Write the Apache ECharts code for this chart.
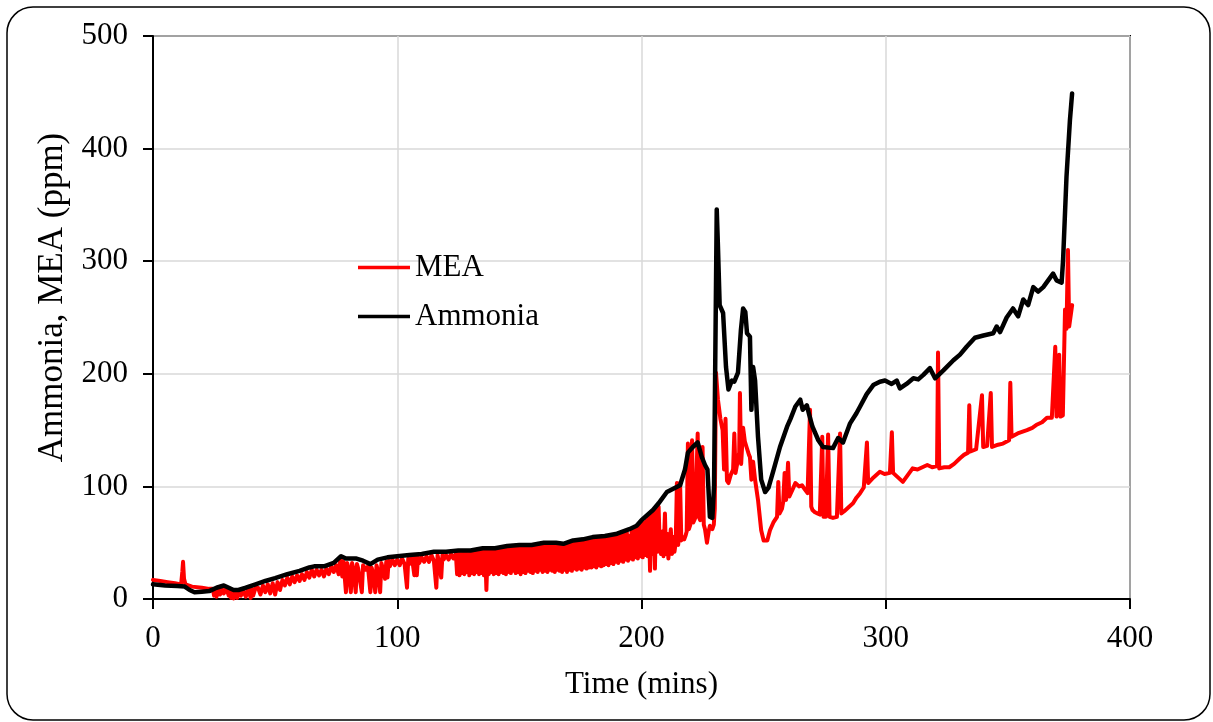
<!DOCTYPE html>
<html>
<head>
<meta charset="utf-8">
<script src="https://cdn.jsdelivr.net/npm/echarts@6/dist/echarts.min.js"></script>
<style>
html,body{margin:0;padding:0;background:#fff;}
#chart{width:1213px;height:722px;}
</style>
</head>
<body>
<div id="chart"></div>
<script>
const xTicks = [0, 100, 200, 300, 400];
const yTicks = [0, 100, 200, 300, 400, 500];
const seriesNames = ['MEA', 'Ammonia'];
const xTitle = 'Time (mins)';
const yTitle = 'Ammonia, MEA (ppm)';

// MEA (red) [time, ppm]
const meaData = [
[0,17],[3,16],[6,15],[9,14],[11.5,13],[12,24],[12.3,33],[12.7,18],[13.3,13],[16,11],[20,10],[23,9],[24.5,9],
[25,3],[25.5,8],[26,2],[27,9],[27.5,4],[28,10],[29,5],[30,10],[31,3],[31.5,8],[32,1],[32.5,7],[33,0.5],[34,6],[34.5,1],[35,7],[36,3],[37,7],[38,2],[39,9],[40,1],[40.5,9],[41,3],[42,10],
[43,10],[44,4],[45,12],[46,6],[47,13],[48,5],[49,14],[50,4],[51,15],[52,8],[53,17],[54,12],[55,19],[56,13],[57,20],[58,15],[59,21],[60,16],[61,22],[62,17],[63,24],[64,19],[65,26],[66,20],[67,26],[68,21],[69,26],[70,20],[71,27],[72,22],[73,29],[74,24],[75,30],[76,22],[76.8,37],[77.5,20],[78,33],
[79,6],[79.5,32],[80,28],[81,6],[81.5,32],[82,27],[83,6],[83.5,31],[84,27],[85.5,6],[86,30],[87,26],[88,29],[89,6],[89.5,28],[90,24],[91,6],[91.5,30],[92,26],[93,6],[93.5,32],[94,28],[95,18],[95.5,33],[96,19],[96.5,34],[97,29],[98,35],[99,30],[100,35],[101,30],[102,36],[103,31],[104,10],[104.5,36],[105,31],[106,37],[107,21],[107.5,37],[108,21],[108.5,37],[109,32],[110,37],[111,33],[112,38],[113,33],[114,39],[115,34],[116,10],[116.5,39],[117,34],[118,19],[118.5,39],[119,35],[120,39],[121,35],[122,40],[123,36],
[124,40],[124.5,22],[125,41],[125.5,21],[126,40],[126.5,23],[127,41],[127.5,22],[128,41],[128.5,24],[129,40],[129.5,21],[130,41],[130.5,23],[131,42],[131.5,22],[132,41],[132.5,24],[133,42],[133.5,22],[134,43],[134.5,23],[135,42],[135.5,21],[136,43],[136.5,8],[137,43],[137.5,22],[138,42],[138.5,24],[139,43],[139.5,22],[140,43],[140.5,23],[141,44],[141.5,22],[142,44],[142.5,24],[143,45],[143.5,23],[144,44],[144.5,22],[145,45],[145.5,24],[146,45],[146.5,23],[147,46],[147.5,25],[148,45],[148.5,23],[149,46],[149.5,24],[150,46],[150.5,22],[151,46],[151.5,24],[152,45],[152.5,23],[153,46],[153.5,25],[154,46],[154.5,24],[155,46],[155.5,23],[156,47],[156.5,25],[157,47],[157.5,24],[158,48],[158.5,26],[159,48],[159.5,24],[160,48],[160.5,25],[161,48],[161.5,24],[162,49],[162.5,26],[163,48],[163.5,25],[164,48],[164.5,24],[165,48],[165.5,26],[166,47],[166.5,25],[167,47],[167.5,24],[168,47],[168.5,26],[169,48],[169.5,24],[170,49],[170.5,26],[171,50],[171.5,25],[172,50],[172.5,27],[173,50],[173.5,26],[174,51],[174.5,27],[175,51],[175.5,26],[176,51],[176.5,28],[177,52],[177.5,27],[178,52],[178.5,28],[179,53],[179.5,28],[180,53],[180.5,29],[181,53],[181.5,28],[182,54],[182.5,30],[183,54],[183.5,29],[184,54],[184.5,30],[185,54],[185.5,31],[186,55],[186.5,30],[187,55],[187.5,32],[188,56],[188.5,31],[189,56],[189.5,33],[190,56],[190.5,32],[191,57],[191.5,34],[192,58],[192.5,33],[193,58],[193.5,35],[194,59],[194.5,34],[195,56],[195.5,36],[196,61],[196.5,35],[197,62],[197.5,37],[198,63],[198.5,36],[199,65],[199.5,38],[200,67],[200.5,37],[201,68],[201.5,39],[202,70],[202.5,38],[203,72],[203.5,25],[204,74],[204.5,40],[205,76],[205.5,27],[206,80],[206.5,42],[207,82],[207.5,45],
[208,40],[208.5,60],[209,38],[209.6,76],[210,40],[210.5,58],[211,36],[212,62],[212.5,40],[213,55],[213.5,42],[214,50],[214.5,103],[215,48],[215.5,58],[215.8,103],[216.3,52],[217,55],[217.5,53],[218,56],[218.5,60],[219,138],[219.4,62],[220,66],[220.7,141],[221.2,68],[222,72],[223,147],[223.5,73],[224,70],[225,135],[225.5,66],[226,62],[226.8,50],[227.5,60],[228,65],[229,62],[229.6,66],[230,80],[230.5,201],
[231.3,177],[232.3,160],[233.2,150],[233.8,115],[234.4,160],[235,105],[235.6,103],[236.5,110],[237.5,115],[238,147],[238.5,112],[239.3,111],[240,130],[240.3,183],[240.8,120],[241.6,152],[242.3,140],[243,135],[244,128],[244.4,126],[245,106],[245.7,122],[246.5,106],[247.7,88],[249,61],[250,52],[251.5,52],[252.6,61],[254,68],[255.5,73],[256,104],[256.5,76],[257.5,80],[258,86],[258.6,112],[259.2,88],[260,121],[260.5,91],[262,98],[263,103],[264.5,100],[265.7,101],[267,97],[268,94],[269,168],[269.5,82],[270,79],[271,77],[272,76],[273,75],[274,144],[274.5,73],[275.5,73],[276.4,146],[277,73],[278.4,72],[280,73],[281.3,147],[281.8,76],[283,78],[285,82],[286.6,85],[288,90],[289.5,94],[291,99],[292.3,139],[292.8,103],[295,108],[297.6,113],[299.5,111],[301.7,112],[302.5,148],[303,112],[305,108],[307,104],[309,110],[311,116],[313,115],[315,117],[317,119],[319,117],[321,118],[321.4,219],[321.9,116],[324,117],[326,117],[328,120],[330.4,125],[332,128],[333.7,130],[334.2,172],[334.7,131],[337,133],[339.4,181],[339.9,135],[341.5,136],[343,183],[343.5,135],[346,137],[348,138],[350.5,141],[351,192],[351.5,144],[354,147],[357.8,150],[360,152],[362,155],[364,157],[366,161],[368,161],[369.4,224],[369.9,162],[371,217],[371.5,162],[372.5,163],[373.4,257],[374,240],[374.6,310],[375.1,242],[376.3,261]
];

// Ammonia (black) [time, ppm]
const ammoniaData = [
[0,13],[5,12],[10,11.5],[13,11],[15,8],[17,6],[20,6.5],[23,7],[26,10],[29,12],[31,10],[33,8],[35,8],[38,10],[42,13],[46,16],[50,18.5],[55,22],[60,25],[64,28],[66,29],[70,29],[74,32],[77,38],[79,36],[83,36],[86,34],[89,31],[92,35],[96,37],[100,38],[105,39],[110,40],[115,42],[120,42],[125,43],[130,43],[135,45],[140,45],[145,47],[150,48],[155,48],[160,50],[165,50],[168,49],[172,52],[176,53],[180,55],[185,56],[190,58],[195,62],[198,65],[200,70],[204.7,79],[207,85],[210.4,95],[214,99],[215.8,101],[217.8,115],[219,130],[221,135],[223,139],[224.7,126],[226,119],[227,115],[228,73],[229,72],[229.7,100],[230.8,346],[231.3,313],[232,261],[233.4,254],[234.6,206],[235.6,186],[237,194],[238,193],[239.5,201],[240.7,239],[241.6,258],[242.5,255],[243.2,236],[244.4,233],[245,168],[245.7,206],[246.5,194],[247.7,144],[249,106],[250.6,95],[252,99],[254,114],[256.7,135],[259.6,153],[261,160],[263,171],[265,177],[266,168],[267.7,172],[268.5,165],[270,153],[272.4,141],[274.3,135],[278.4,134],[280.5,143],[282.5,139],[285.4,156],[288,165],[289.5,171],[292.2,182],[294.9,190],[297.6,193],[299.7,194],[302.4,191],[304.5,194],[305.8,187],[308.5,191],[311.3,196],[313.3,195],[315.4,199],[318.1,205],[320.2,196],[323.6,203],[327.7,212],[330.4,217],[333.1,224],[336.5,232],[340,234],[344,236],[345.4,242],[346.8,237],[349.5,250],[352.1,258],[354.2,251],[356.3,266],[358.3,261],[360.4,277],[362.4,273],[364.5,277],[366.5,283],[368.5,289],[369.9,283],[372,281],[372.6,301],[374,375],[375.4,425],[376.3,449]
];

const FONT = 'Liberation Serif, Times New Roman, serif';
const chart = echarts.init(document.getElementById('chart'), null, {renderer: 'canvas'});
chart.setOption({
  animation: false,
  backgroundColor: '#ffffff',
  graphic: [{
    type: 'rect',
    shape: {x: 7, y: 7, width: 1203, height: 713, r: 26},
    style: {fill: 'none', stroke: '#000', lineWidth: 1.5},
    silent: true, z: -1
  }],
  grid: {left: 153, right: 83, top: 36, bottom: 123, show: true, borderColor: '#000', borderWidth: 2, backgroundColor: 'transparent'},
  legend: {
    orient: 'vertical', left: 358, top: 252, padding: 0, itemGap: 18,
    itemWidth: 52, itemHeight: 3.5, icon: 'rect',
    textStyle: {fontFamily: FONT, fontSize: 31, color: '#000', lineHeight: 31},
    data: seriesNames
  },
  xAxis: {
    type: 'value', min: xTicks[0], max: xTicks[xTicks.length - 1], interval: 100,
    name: xTitle, nameLocation: 'middle', nameGap: 70,
    nameTextStyle: {fontFamily: FONT, fontSize: 31, color: '#000'},
    axisLine: {show: true, lineStyle: {color: '#000', width: 2}},
    axisTick: {show: true, length: 10, lineStyle: {color: '#000', width: 2}},
    axisLabel: {fontFamily: FONT, fontSize: 31, color: '#000', margin: 24},
    splitLine: {show: true, lineStyle: {color: '#d9d9d9', width: 1.5}}
  },
  yAxis: {
    type: 'value', min: yTicks[0], max: yTicks[yTicks.length - 1], interval: 100,
    name: yTitle, nameLocation: 'middle', nameGap: 80, nameRotate: 90,
    nameTextStyle: {fontFamily: FONT, fontSize: 35, color: '#000', padding: [0, 0, 0, 40]},
    axisLine: {show: true, lineStyle: {color: '#000', width: 2}},
    axisTick: {show: true, length: 10, lineStyle: {color: '#000', width: 2}},
    axisLabel: {fontFamily: FONT, fontSize: 31, color: '#000', margin: 25},
    splitLine: {show: true, lineStyle: {color: '#d9d9d9', width: 1.5}}
  },
  series: [
    {name: seriesNames[0], type: 'line', data: meaData, showSymbol: false, symbol: 'none', sampling: null,
     color: '#ff0000', lineStyle: {color: '#ff0000', width: 4, join: 'round', cap: 'round'}, z: 2},
    {name: seriesNames[1], type: 'line', data: ammoniaData, showSymbol: false, symbol: 'none',
     color: '#000000', lineStyle: {color: '#000000', width: 4.5, join: 'round', cap: 'round'}, z: 3}
  ]
});
</script>
</body>
</html>
